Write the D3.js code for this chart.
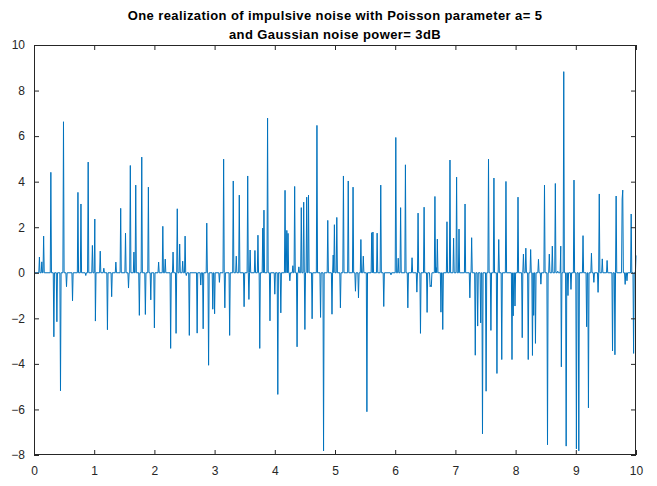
<!DOCTYPE html>
<html><head><meta charset="utf-8">
<script src="https://cdn.jsdelivr.net/npm/d3@7"></script>
<style>body{margin:0;background:#fff}svg{display:block}text{font-family:"Liberation Sans",Arial,sans-serif}</style>
</head><body>
<script>
// Impulse times (s) and amplitudes
const spikeTimes = [0.09,0.13,0.16,0.28,0.33,0.38,0.44,0.49,0.54,0.64,0.73,0.78,0.86,0.90,0.97,1.01,1.02,1.10,1.16,1.22,1.29,1.36,1.44,1.52,1.57,1.60,1.66,1.69,1.75,1.79,1.85,1.90,1.94,2.00,2.07,2.14,2.18,2.27,2.31,2.36,2.38,2.42,2.47,2.51,2.53,2.58,2.71,2.77,2.81,2.87,2.90,2.97,3.00,3.08,3.15,3.17,3.25,3.31,3.36,3.41,3.49,3.55,3.57,3.59,3.67,3.72,3.75,3.80,3.82,3.88,3.92,4.00,4.05,4.10,4.17,4.20,4.22,4.25,4.30,4.33,4.37,4.40,4.44,4.48,4.50,4.53,4.56,4.62,4.70,4.76,4.81,4.88,4.95,4.97,4.99,5.03,5.09,5.14,5.22,5.30,5.34,5.39,5.43,5.47,5.53,5.61,5.63,5.70,5.76,5.81,5.93,6.01,6.05,6.09,6.17,6.21,6.28,6.36,6.38,6.42,6.48,6.53,6.58,6.59,6.60,6.66,6.68,6.70,6.76,6.79,6.86,6.91,6.97,7.02,7.06,7.16,7.24,7.27,7.33,7.37,7.42,7.45,7.51,7.55,7.59,7.64,7.69,7.72,7.77,7.84,7.94,7.96,7.99,8.04,8.11,8.13,8.17,8.21,8.25,8.28,8.30,8.33,8.38,8.42,8.48,8.53,8.56,8.61,8.66,8.70,8.75,8.76,8.80,8.84,8.87,8.92,8.97,9.01,9.05,9.12,9.18,9.21,9.26,9.30,9.37,9.39,9.44,9.52,9.61,9.65,9.67,9.77,9.78,9.82,9.85,9.92,9.96,10.00];
const spikeValues = [0.69,0.48,1.61,4.41,-2.81,-2.15,-5.18,6.63,-0.61,-1.23,3.53,3.02,-0.12,4.86,1.20,2.36,-2.12,0.95,0.20,-2.50,-1.05,0.47,2.83,1.74,-0.67,4.71,0.91,3.85,-1.87,5.08,-1.83,3.76,-1.19,-2.42,0.47,2.04,0.60,-3.32,0.91,-2.66,2.81,1.26,0.51,1.61,-0.12,-2.75,-2.65,-0.54,-2.46,2.18,-4.06,-1.60,-1.80,-0.42,4.99,-1.54,-2.75,4.03,0.73,3.41,-1.49,4.25,-1.17,1.00,0.98,1.65,-3.32,1.96,2.75,6.79,-2.11,-0.94,-5.34,-1.76,3.62,1.86,1.73,-0.35,0.31,3.79,-3.25,0.26,2.86,3.10,-2.49,3.32,3.41,-2.02,6.47,-1.96,-7.82,2.30,-1.82,0.78,2.11,2.43,-1.54,4.25,4.03,3.76,-0.81,-1.10,1.46,0.73,-6.10,1.76,1.79,1.74,3.85,-1.48,-0.09,5.94,0.64,2.86,4.74,-1.54,0.66,-0.85,2.62,-2.66,2.88,-1.74,-0.61,-0.55,-0.61,3.35,0.23,1.48,-1.73,-2.49,2.24,4.95,1.52,4.20,1.92,3.02,-1.10,1.54,-3.62,-2.34,-2.20,-7.07,-5.20,4.99,-2.53,4.16,-4.42,1.46,-3.81,4.01,-3.81,-1.89,-1.46,3.32,-2.85,0.82,1.08,-3.81,1.02,-3.63,-1.87,-3.10,0.59,-0.50,3.85,-7.55,0.82,1.17,3.92,0.07,1.17,-4.13,8.83,-7.61,-1.00,-0.73,4.07,-7.73,-7.82,1.63,-2.37,-5.93,0.86,-0.42,-0.86,3.46,0.61,0.54,-3.43,-3.60,3.37,3.24,3.63,-0.51,-0.35,2.58,-3.54,0.76];
const xTicks = [0,1,2,3,4,5,6,7,8,9,10];
const yTicks = [-8,-6,-4,-2,0,2,4,6,8,10];
const titleLines = ["One realization of impulsive noise with Poisson parameter a= 5","and Gaussian noise power= 3dB"];
const sampleStep = 0.01;

const W=657,H=486, m={l:34,r:21,t:45,b:31};
const svg=d3.select("body").append("svg").attr("width",W).attr("height",H);
const x=d3.scaleLinear().domain([0,10]).range([m.l,W-m.r]);
const y=d3.scaleLinear().domain([-8,10]).range([H-m.b,m.t]);

// build sample sequence: zeros around each impulse
const N=Math.round(10/sampleStep);
const vals=new Map();
spikeTimes.forEach((t,i)=>vals.set(Math.round(t/sampleStep),spikeValues[i]));
const idx=new Set([0,N]);
vals.forEach((v,k)=>{idx.add(k);if(k>0)idx.add(k-1);if(k<N)idx.add(k+1);});
const pts=[...idx].sort((a,b)=>a-b).map(k=>[k*sampleStep, vals.has(k)?vals.get(k):0]);

const g=svg.append("g");
g.append("path").datum(pts).attr("fill","none").attr("stroke","#0072BD").attr("stroke-width",1)
 .attr("d",d3.line().x(d=>x(d[0])).y(d=>y(d[1])));

const col="#262626";
function styleAxis(sel){sel.select(".domain").remove();sel.selectAll("line").attr("stroke",col);sel.selectAll("text").attr("fill",col).style("font-size","12px").style("font-family","'Liberation Sans',Arial,sans-serif");}
svg.append("g").attr("transform",`translate(0,${H-m.b})`).call(d3.axisBottom(x).tickValues(xTicks).tickSize(-5).tickPadding(11.5).tickFormat(d3.format("d"))).call(styleAxis);
svg.append("g").attr("transform",`translate(0,${m.t})`).call(d3.axisTop(x).tickValues(xTicks).tickSize(-5).tickFormat("")).call(styleAxis);
svg.append("g").attr("transform",`translate(${m.l},0)`).call(d3.axisLeft(y).tickValues(yTicks).tickSize(-5).tickPadding(9).tickFormat(d3.format("d"))).call(styleAxis);
svg.append("g").attr("transform",`translate(${W-m.r},0)`).call(d3.axisRight(y).tickValues(yTicks).tickSize(-5).tickFormat("")).call(styleAxis);
svg.append("rect").attr("x",m.l+0.5).attr("y",m.t+0.5).attr("width",W-m.l-m.r-1).attr("height",H-m.t-m.b-1)
 .attr("fill","none").attr("stroke",col).attr("stroke-width",1);

svg.selectAll(".ttl").data(titleLines).enter().append("text").attr("class","ttl")
 .attr("x",(m.l+W-m.r)/2).attr("y",(d,i)=>20+i*19).attr("text-anchor","middle")
 .attr("font-weight","bold").attr("font-size","13px").attr("letter-spacing","0.4px").attr("fill","#000").text(d=>d);
</script>
</body></html>
